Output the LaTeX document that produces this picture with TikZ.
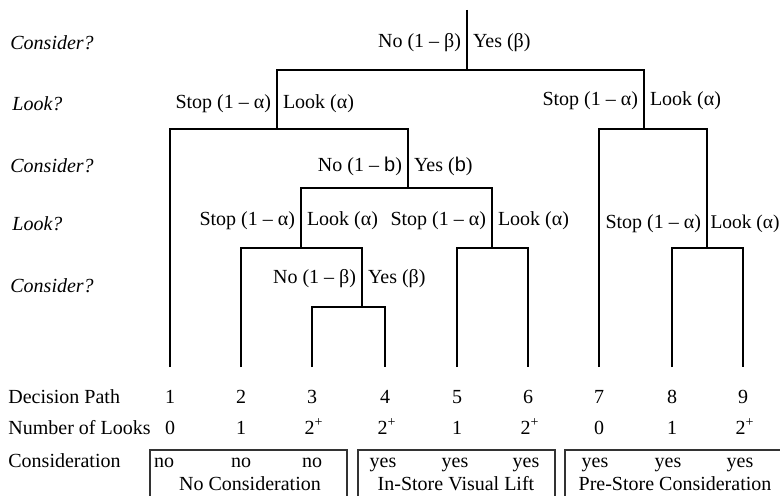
\documentclass[tikz,border=0pt]{standalone}
\usepackage{fontspec}
\setmainfont{Liberation Serif}
\setsansfont{Liberation Sans}

\begin{document}
\begin{tikzpicture}[x=0.5pt, y=-0.5pt, branch/.style={
  % The line:
  line width=1pt, black},
  lbl/.style={inner xsep=2.8pt, inner ysep=3pt},
  ask/.style={font=\itshape, anchor=west, inner sep=0pt},
  row/.style={anchor=base west, inner sep=0pt},
  cell/.style={anchor=base, inner sep=0pt},
  group/.style={draw=black!80, line width=1pt}]
  \useasboundingbox (0,0) rectangle (780,496);

  % split points of the tree
  \coordinate (top) at (467,10);
  \coordinate (s1) at (467,70);
  \coordinate (a) at (277,129);
  \coordinate (b) at (644,129);
  \coordinate (c) at (408,188);
  \coordinate (d) at (301,248);
  \coordinate (e) at (492,248);
  \coordinate (f) at (362,307);
  \coordinate (g) at (707,248);

  % ends of the nine paths
  \coordinate (l1) at (170,367);
  \coordinate (l2) at (241,367);
  \coordinate (l3) at (312,367);
  \coordinate (l4) at (385,367);
  \coordinate (l5) at (457,367);
  \coordinate (l6) at (528,367);
  \coordinate (l7) at (599,367);
  \coordinate (l8) at (672,367);
  \coordinate (l9) at (743,367);

  \draw [branch] (top) -- (s1);
  \draw [branch] (a) |- (s1) -| (b);
  \draw [branch] (l1) |- (a) -| (c);
  \draw [branch] (d) |- (c) -| (e);
  \draw [branch] (l2) |- (d) -| (f);
  \draw [branch] (l3) |- (f) -| (l4);
  \draw [branch] (l5) |- (e) -| (l6);
  \draw [branch] (l7) |- (b) -| (g);
  \draw [branch] (l8) |- (g) -| (l9);

  % questions on the left
  \node [ask] (q1) at (10,43) {Consider?};
  \node [ask] (q2) at (12,104) {Look?};
  \node [ask] (q3) at (10,166) {Consider?};
  \node [ask] (q4) at (12,224) {Look?};
  \node [ask] (q5) at (10,286) {Consider?};

  % branch labels
  \node [lbl, anchor=east] at (467,43) {No (1 -- β)};
  \node [lbl, anchor=west] at (467,43) {Yes (β)};
  \node [lbl, anchor=east] at (277,104) {Stop (1 -- α)};
  \node [lbl, anchor=west] at (277,104) {Look (α)};
  \node [lbl, anchor=east] at (644,101) {Stop (1 -- α)};
  \node [lbl, anchor=west] at (644,101) {Look (α)};
  \node [lbl, anchor=east] at (408,166) {No (1 -- \textsf{b})};
  \node [lbl, anchor=west] at (408,166) {Yes (\textsf{b})};
  \node [lbl, anchor=east] at (301,221) {Stop (1 -- α)};
  \node [lbl, anchor=west] at (301,221) {Look (α)};
  \node [lbl, anchor=east] at (492,221) {Stop (1 -- α)};
  \node [lbl, anchor=west] at (492,221) {Look (α)};
  \node [lbl, anchor=east] at (707,224) {Stop (1 -- α)};
  \node [lbl, anchor=west, inner xsep=1.6pt, font=\fontsize{9.7}{12}\selectfont] at (707,224) {Look (α)};
  \node [lbl, anchor=east] at (362,279) {No (1 -- β)};
  \node [lbl, anchor=west] at (362,279) {Yes (β)};

  % table below the tree
  \node [row] (path) at (8,403) {Decision Path};
  \node [cell] (p1) at (170,403) {1};
  \node [cell] (p2) at (241,403) {2};
  \node [cell] (p3) at (312,403) {3};
  \node [cell] (p4) at (385,403) {4};
  \node [cell] (p5) at (457,403) {5};
  \node [cell] (p6) at (528,403) {6};
  \node [cell] (p7) at (599,403) {7};
  \node [cell] (p8) at (672,403) {8};
  \node [cell] (p9) at (743,403) {9};

  \node [row] (looks) at (8,434) {Number of Looks};
  \node [cell] (n1) at (170,434) {0};
  \node [cell] (n2) at (241,434) {1};
  \node [cell] (n3) at (314,434) {2\textsuperscript{+}};
  \node [cell] (n4) at (387,434) {2\textsuperscript{+}};
  \node [cell] (n5) at (457,434) {1};
  \node [cell] (n6) at (530,434) {2\textsuperscript{+}};
  \node [cell] (n7) at (599,434) {0};
  \node [cell] (n8) at (672,434) {1};
  \node [cell] (n9) at (745,434) {2\textsuperscript{+}};

  \node [row] (cons) at (8,467) {Consideration};
  \draw [group] (150,450) rectangle (347,510);
  \draw [group] (358,450) rectangle (555,510);
  \draw [group] (565,450) rectangle (790,510);
  \node [cell] (k1) at (164,467) {no};
  \node [cell] (k2) at (241,467) {no};
  \node [cell] (k3) at (312,467) {no};
  \node [cell] (k4) at (383,467) {yes};
  \node [cell] (k5) at (455,467) {yes};
  \node [cell] (k6) at (526,467) {yes};
  \node [cell] (k7) at (595,467) {yes};
  \node [cell] (k8) at (668,467) {yes};
  \node [cell] (k9) at (740,467) {yes};
  \node [cell] (g1) at (250,490) {No Consideration};
  \node [cell] (g2) at (456,490) {In-Store Visual Lift};
  \node [cell] (g3) at (675,490) {Pre-Store Consideration};
\end{tikzpicture}
\end{document}
